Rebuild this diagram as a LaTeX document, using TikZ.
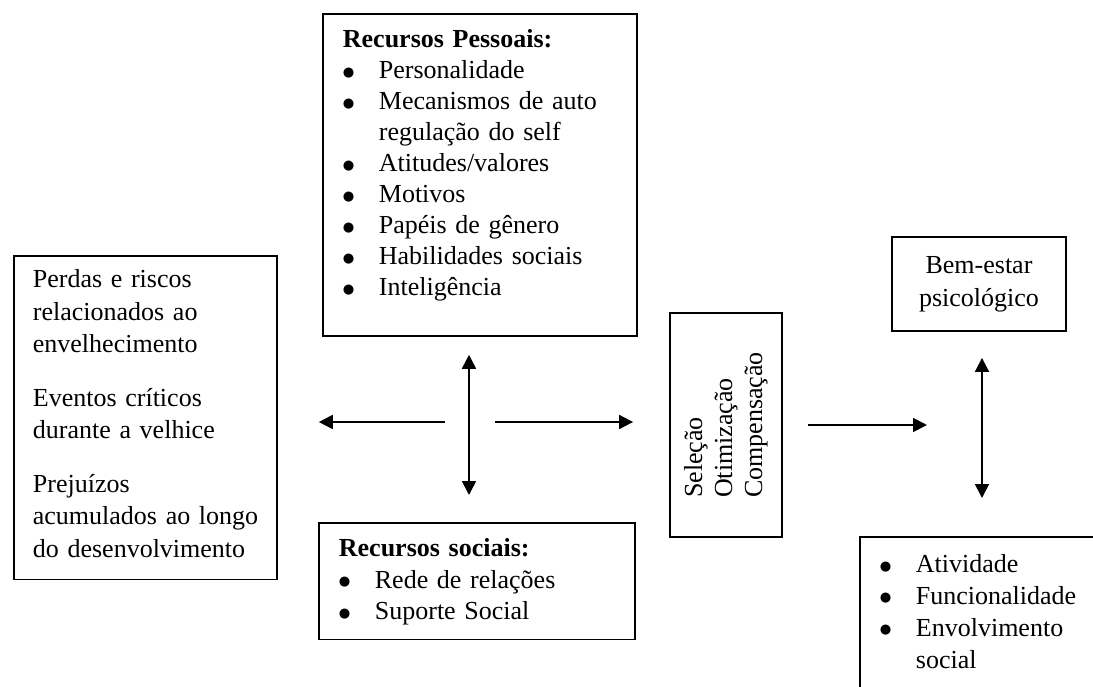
\documentclass[tikz,border=0pt]{standalone}
\usepackage{fontspec}
\usepackage{graphicx}
\setmainfont{Liberation Serif}
\newfontfamily\symb{DejaVu Sans}
\usetikzlibrary{arrows.meta,calc,positioning}

\newcommand{\blt}{\raisebox{1.4pt}{\fontsize{6.6}{6.6}\selectfont\symb ●}}
\newcommand{\itm}[1]{\makebox[18pt][l]{\blt}#1}
\newcommand{\cont}[1]{\hspace*{18pt}#1}
\newcommand{\deep}[1]{\rule[-#1]{0pt}{#1}}

\tikzset{
  box/.style={draw, line width=0.9pt, align=left, anchor=north west,
    inner xsep=10pt, inner ysep=7pt, font=\fontsize{13}{15.5}\selectfont},
  twoway/.style={{Triangle[length=7pt,width=7pt]}-{Triangle[length=7pt,width=7pt]}, line width=0.9pt},
  oneway/.style={-{Triangle[length=7pt,width=7pt]}, line width=0.9pt},
}

\begin{document}
\begin{tikzpicture}[x=0.5pt, y=-0.5pt]
  \useasboundingbox (0,0) rectangle (1093,686);
  \clip (0,0) rectangle (1093,686);
  \fill[white] (0,0) rectangle (1093,686);

  % hubs where the arrows meet
  \coordinate (hub) at (469,422);
  \coordinate (outhub) at (982,425);

  \node[box, inner xsep=9.5pt, text width=112.5pt, font=\fontsize{13}{16.25}\selectfont] (riscos) at (13,255)
    {Perdas e riscos\\relacionados ao\\envelhecimento\\[10.5pt]
     Eventos críticos\\durante a velhice\\[10.5pt]
     Prejuízos\\\mbox{acumulados ao longo}\\\mbox{do desenvolvimento}\deep{4pt}};

  \node[box, text width=137pt] (pessoais) at (322,13)
    {\rule{0pt}{10pt}\textbf{Recursos Pessoais:}\\
     \itm{Personalidade}\\
     \itm{Mecanismos de auto}\\
     \cont{regulação do self}\\
     \itm{Atitudes/valores}\\
     \itm{Motivos}\\
     \itm{Papéis de gênero}\\
     \itm{Habilidades sociais}\\
     \itm{Inteligência}\deep{13pt}};

  \node[box, text width=138pt, font=\fontsize{13}{15.75}\selectfont] (sociais) at (318,522)
    {\rule{0pt}{10pt}\textbf{Recursos sociais:}\\
     \itm{Rede de relações}\\
     \itm{Suporte Social}};

  \node[draw, line width=0.9pt, minimum width=56pt, minimum height=112pt, inner sep=0pt,
    font=\fontsize{13}{15}\selectfont] (selecao) at (726,425)
    {\rotatebox{90}{\begin{tabular}{@{}l@{}}Seleção\\Otimização\\Compensação\end{tabular}}};

  \node[draw, line width=0.9pt, align=center, minimum width=87pt, minimum height=47pt,
    font=\fontsize{13}{16.5}\selectfont] (bemestar) at (979,284)
    {Bem-estar\\psicológico};

  \node[box, inner ysep=9pt, text width=200pt, font=\fontsize{13}{15.85}\selectfont] (resultados) at (859,536)
    {\itm{Atividade}\\
     \itm{Funcionalidade}\\
     \itm{Envolvimento}\\
     \cont{social}\deep{20pt}};

  \draw[twoway, shorten <=9pt, shorten >=13.5pt] (pessoais.south -| hub) -- (sociais.north -| hub);
  \draw[oneway, shorten <=12pt, shorten >=20.5pt] (hub) -- (riscos.east |- hub);
  \draw[oneway, shorten <=13pt, shorten >=18pt] (hub) -- (selecao.west |- hub);
  \draw[oneway, shorten <=12.5pt, shorten >=27.5pt] (selecao.east |- outhub) -- (outhub);
  \draw[twoway, shorten <=13pt, shorten >=19pt] (bemestar.south -| outhub) -- (resultados.north -| outhub);
\end{tikzpicture}
\end{document}
